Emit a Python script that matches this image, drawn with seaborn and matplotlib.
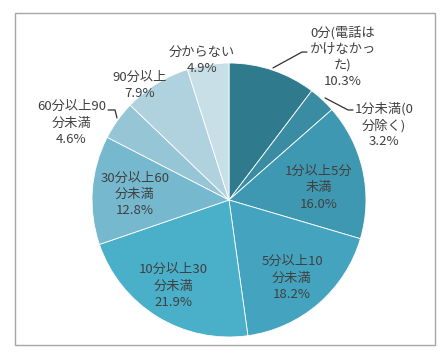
import matplotlib
matplotlib.use("Agg")
import matplotlib.pyplot as plt
import seaborn as sns
from matplotlib.patches import Rectangle

# データ (通話時間の分布, %)
categories = [
    "0分(電話は\nかけなかっ\nた)",
    "1分未満(0\n分除く)",
    "1分以上5分\n未満",
    "5分以上10\n分未満",
    "10分以上30\n分未満",
    "30分以上60\n分未満",
    "60分以上90\n分未満",
    "90分以上",
    "分からない",
]
shares = [10.3, 3.2, 16.0, 18.2, 21.9, 12.8, 4.6, 7.9, 4.9]

# 見た目の設定
colors = ["#2f7a8c", "#3a8ca2", "#3f98b1", "#44a4bf", "#4aafc9",
          "#76b9ce", "#96c6d6", "#afd2de", "#c9dfe7"]
# ラベル位置 (半径=1 の座標系)
label_pos = [(0.832, 1.044), (1.130, 0.547), (0.657, 0.088), (0.460, -0.569),
             (-0.405, -0.628), (-0.686, 0.040), (-1.150, 0.562),
             (-0.650, 0.833), (-0.197, 1.020)]
leaders = {
    0: [(0.321, 0.964), (0.533, 1.080), (0.569, 1.080)],
    1: [(0.701, 0.745), (0.869, 0.657), (0.905, 0.657)],
    6: [(-0.818, 0.599), (-0.832, 0.657), (-0.883, 0.657)],
}

sns.set_theme(style="white")
plt.rcParams["font.family"] = ["Noto Sans CJK JP", "DejaVu Sans"]

W, H = 447, 356
fig = plt.figure(figsize=(W / 100, H / 100), dpi=100)
fig.patch.set_facecolor("white")

# 外枠
fig.patches.append(Rectangle((15 / W, 1 - 345 / H), 420 / W, 332 / H,
                             transform=fig.transFigure, fill=False,
                             edgecolor="#a6a6a6", linewidth=1.0))

cx, cy, r = 229, 200, 137
ax = fig.add_axes([(cx - r) / W, (H - cy - r) / H, 2 * r / W, 2 * r / H])
ax.pie(shares, colors=colors, startangle=90, counterclock=False,
       wedgeprops=dict(edgecolor="white", linewidth=0.6))
ax.set_xlim(-1, 1)
ax.set_ylim(-1, 1)
ax.set_aspect("equal")
ax.axis("off")

for i, (lab, v) in enumerate(zip(categories, shares)):
    x, y = label_pos[i]
    ax.text(x, y, f"{lab}\n{v:.1f}%", ha="center", va="center",
            fontsize=9.5, color="#404040", linespacing=1.32, clip_on=False)

for pts in leaders.values():
    xs, ys = zip(*pts)
    ax.plot(xs, ys, color="#303030", linewidth=0.9, clip_on=False)

fig.savefig("out.png", dpi=100)
